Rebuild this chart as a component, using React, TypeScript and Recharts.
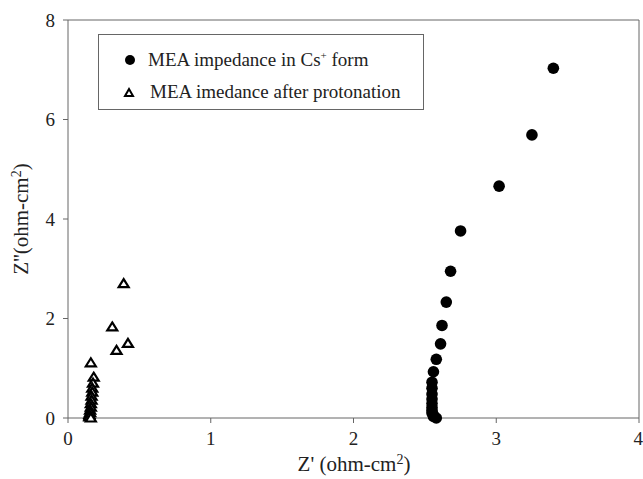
import React from "react";
import { ScatterChart, Scatter, XAxis, YAxis, ReferenceLine } from "recharts";

// MEA impedance in Cs+ form
const csZre = [3.4, 3.25, 3.02, 2.75, 2.68, 2.65, 2.62, 2.61, 2.58, 2.56, 2.55, 2.55, 2.55, 2.55, 2.55, 2.55, 2.55, 2.55, 2.56, 2.56, 2.58];
const csZim = [7.03, 5.69, 4.66, 3.76, 2.95, 2.33, 1.86, 1.49, 1.18, 0.93, 0.72, 0.6, 0.48, 0.38, 0.29, 0.21, 0.15, 0.1, 0.06, 0.03, 0.0];

// MEA impedance after protonation
const hZre = [0.39, 0.31, 0.42, 0.34, 0.16, 0.18, 0.175, 0.17, 0.17, 0.165, 0.165, 0.16, 0.16, 0.155, 0.155, 0.15, 0.15, 0.15, 0.16];
const hZim = [2.7, 1.83, 1.5, 1.36, 1.11, 0.82, 0.7, 0.6, 0.52, 0.44, 0.36, 0.29, 0.22, 0.16, 0.11, 0.07, 0.04, 0.02, 0.0];

const xTicks = [0, 1, 2, 3, 4];
const yTicks = [0, 2, 4, 6, 8];

const csData = csZre.map((x, i) => ({ x, y: csZim[i] }));
const hData = hZre.map((x, i) => ({ x, y: hZim[i] }));

const FONT = '"Liberation Serif", "DejaVu Serif", serif';
const AXIS = "#666";
const TEXT = "#222";

const Triangle = (props: any) => {
  const { cx, cy } = props;
  if (cx == null || cy == null) return null;
  return (
    <path
      d={`M${cx},${cy - 4.5} L${cx + 5},${cy + 3.5} L${cx - 5},${cy + 3.5} Z`}
      fill="#fff"
      stroke="#000"
      strokeWidth={2.2}
    />
  );
};

const Dot = (props: any) => {
  const { cx, cy } = props;
  if (cx == null || cy == null) return null;
  return <circle cx={cx} cy={cy} r={5.8} fill="#000" />;
};

// titles and legend drawn on top of the chart
const Overlay = () => (
  <svg
    width={643}
    height={479}
    style={{ position: "absolute", left: 0, top: 0, pointerEvents: "none", fontFamily: FONT }}
  >
    <text x={354} y={471} textAnchor="middle" fill={TEXT} fontSize={21}>
      Z' (ohm-cm<tspan dy={-7} fontSize={14}>2</tspan>
      <tspan dy={7}>)</tspan>
    </text>
    <text
      x={28}
      y={219}
      transform="rotate(-90 28 219)"
      textAnchor="middle"
      fill={TEXT}
      fontSize={21}
    >
      Z''(ohm-cm<tspan dy={-7} fontSize={14}>2</tspan>
      <tspan dy={7}>)</tspan>
    </text>
    <rect x={98.5} y={34.5} width={325} height={75} fill="#fff" stroke={AXIS} strokeWidth={1} />
    <circle cx={130} cy={60} r={5} fill="#000" />
    <path d="M129,89 L133,96 L125,96 Z" fill="#fff" stroke="#000" strokeWidth={2} />
    <text x={148} y={66} fill={TEXT} fontSize={19}>
      MEA impedance in Cs<tspan dy={-7} fontSize={11}>+</tspan>
      <tspan dy={7}> form</tspan>
    </text>
    <text x={150} y={98} fill={TEXT} fontSize={19}>
      MEA imedance after protonation
    </text>
  </svg>
);

export default function App() {
  return (
    <div style={{ position: "absolute", left: 0, top: 0, width: 643, height: 479, background: "#fff" }}>
      <ScatterChart
        width={643}
        height={479}
        margin={{ top: 20, right: 4, bottom: 0, left: 0 }}
        style={{ fontFamily: FONT }}
      >
        <XAxis
          type="number"
          dataKey="x"
          domain={[0, 4]}
          ticks={xTicks}
          height={61}
          stroke={AXIS}
          tickSize={5}
          tickMargin={9}
          tick={{ fill: TEXT, fontSize: 19 }}
        />
        <YAxis
          type="number"
          dataKey="y"
          domain={[0, 8]}
          ticks={yTicks}
          width={68}
          stroke={AXIS}
          tickSize={5}
          tickMargin={8}
          tick={{ fill: TEXT, fontSize: 19 }}
        />
        <ReferenceLine y={8} stroke={AXIS} />
        <ReferenceLine x={4} stroke={AXIS} />
        <Scatter name="MEA impedance in Cs+ form" data={csData} shape={<Dot />} isAnimationActive={false} />
        <Scatter name="MEA imedance after protonation" data={hData} shape={<Triangle />} isAnimationActive={false} />
      </ScatterChart>
      <Overlay />
    </div>
  );
}
